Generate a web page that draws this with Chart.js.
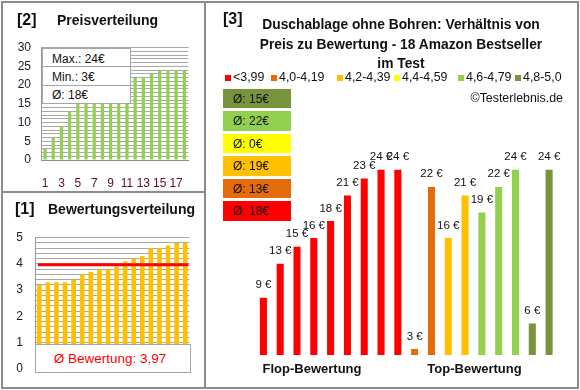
<!DOCTYPE html>
<html>
<head>
<meta charset="utf-8">
<script src="https://cdn.jsdelivr.net/npm/chart.js@4.4.0/dist/chart.umd.min.js"></script>
<style>
  body { margin: 0; background: #fff; font-family: "Liberation Sans", Arial, sans-serif; }
  #wrap { position: relative; width: 580px; height: 390px; overflow: hidden; }
  canvas { position: absolute; }
  .abs { position: absolute; box-sizing: border-box; }
  .t { position: absolute; white-space: nowrap; line-height: 1; color: #111; }
</style>
</head>
<body>
<div id="wrap">
  <canvas id="cPrice" width="204" height="191" style="left:0;top:0"></canvas>
  <canvas id="cRating" width="204" height="195" style="left:0;top:193px"></canvas>
  <canvas id="cMain" width="372" height="387" style="left:206px;top:0"></canvas>
</div>
<script>
// data
const rankLabels = ["1","2","3","4","5","6","7","8","9","10","11","12","13","14","15","16","17","18"];
const pricesSorted = [3, 6, 9, 13, 15, 16, 16, 18, 19, 21, 21, 22, 22, 23, 24, 24, 24, 24];
const priceTicks = [0, 5, 10, 15, 20, 25, 30];
const statLabels = ["Max.:", "Min.:", "Ø:"];
const statValues = [24, 3, 18];

const ratingsSorted = [3.2, 3.3, 3.3, 3.3, 3.4, 3.6, 3.7, 3.8, 3.8, 3.9, 4.1, 4.2, 4.3, 4.6, 4.6, 4.7, 4.8, 4.8];
const ratingTicks = [0, 1, 2, 3, 4, 5];
const avgRating = 3.97;
const avgRatingText = "3,97";

const productPrices = [9, 13, 15, 16, 18, 21, 23, 24, 24, 3, 22, 16, 21, 19, 22, 24, 6, 24];
const productGroup = [0, 0, 0, 0, 0, 0, 0, 0, 0, 1, 1, 2, 2, 4, 4, 4, 5, 5];
const groupLabels = ["<3,99", "4,0-4,19", "4,2-4,39", "4,4-4,59", "4,6-4,79", "4,8-5,0"];
const groupAvgPrice = [18, 13, 19, 0, 22, 15];
const sideLabels = ["Flop-Bewertung", "Top-Bewertung"];

// styles
const FONT = '"Liberation Sans", Arial, sans-serif';
const groupColors = ["#FF0000", "#E46C0A", "#FFC000", "#FFFF00", "#92D050", "#77933C"];
const wrap = document.getElementById("wrap");

function box(x, y, w, h, css) {
  const d = document.createElement("div");
  d.className = "abs";
  d.style.cssText += `left:${x}px;top:${y}px;width:${w}px;height:${h}px;` + (css || "");
  wrap.appendChild(d);
  return d;
}

// text placed by baseline (Liberation metrics)
function addText(str, x, base, size, opt) {
  opt = opt || {};
  const d = document.createElement("div");
  d.className = "t";
  d.textContent = str;
  d.style.fontSize = size + "px";
  d.style.top = (base - 0.8465 * size) + "px";
  if (opt.bold) d.style.fontWeight = "bold";
  if (opt.color) d.style.color = opt.color;
  if (opt.align === "center") {
    d.style.left = x + "px";
    d.style.transform = "translateX(-50%)";
  } else if (opt.align === "right") {
    d.style.right = (580 - x) + "px";
  } else {
    d.style.left = x + "px";
  }
  wrap.appendChild(d);
}

Chart.defaults.font.family = FONT;

// [2] Preisverteilung
new Chart(document.getElementById("cPrice"), {
  type: "bar",
  data: {
    labels: rankLabels,
    datasets: [{ data: pricesSorted, backgroundColor: "#92D050", barPercentage: 0.4, categoryPercentage: 1 }]
  },
  options: {
    responsive: false, animation: false, devicePixelRatio: 1,
    layout: { padding: { left: 0, right: 15.6, top: 47.7, bottom: 0 } },
    plugins: { legend: { display: false }, tooltip: { enabled: false } },
    scales: {
      x: {
        grid: { display: false },
        border: { display: true, color: "#8c8c8c" },
        ticks: {
          autoSkip: false, maxRotation: 0, padding: 8, color: "#5a1020",
          font: { size: 12 },
          callback: (v, i) => (i % 2 === 0 ? rankLabels[i] : "")
        },
        afterFit: s => { s.height = 31; }
      },
      y: {
        min: 0, max: 30,
        ticks: {
          stepSize: 1, autoSkip: false, padding: 10, color: "#1a1a2a",
          font: { size: 12 },
          callback: v => (priceTicks.includes(v) ? v : "")
        },
        grid: { color: "#a8a8a8", drawTicks: false },
        border: { color: "#999" },
        afterFit: s => { s.width = 41; }
      }
    }
  }
});

// [1] Bewertungsverteilung
const avgLine = {
  id: "avgLine",
  afterDatasetsDraw(chart) {
    const ctx = chart.ctx, a = chart.chartArea;
    const y = chart.scales.y.getPixelForValue(avgRating);
    ctx.save();
    ctx.strokeStyle = "#FF0000";
    ctx.lineWidth = 3;
    ctx.beginPath();
    ctx.moveTo(a.left + 3, y);
    ctx.lineTo(a.right - 1, y);
    ctx.stroke();
    ctx.restore();
  }
};

new Chart(document.getElementById("cRating"), {
  type: "bar",
  data: {
    labels: rankLabels,
    datasets: [{ data: ratingsSorted, backgroundColor: "#FFC000", barPercentage: 0.55, categoryPercentage: 1 }]
  },
  options: {
    responsive: false, animation: false, devicePixelRatio: 1,
    layout: { padding: { left: 0, right: 14.5, top: 44.7, bottom: 14.7 } },
    plugins: { legend: { display: false }, tooltip: { enabled: false } },
    scales: {
      x: { display: false },
      y: {
        min: 0, max: 5,
        ticks: {
          stepSize: 0.2, autoSkip: false, padding: 12, color: "#1a1a2a",
          font: { size: 12 },
          callback: v => (ratingTicks.includes(v) ? v : "")
        },
        grid: { color: "#a8a8a8", drawTicks: false },
        border: { color: "#999" },
        afterFit: s => { s.width = 35; }
      }
    }
  },
  plugins: [avgLine]
});

// [3] main chart
const barLabels = {
  id: "barLabels",
  afterDatasetsDraw(chart) {
    const ctx = chart.ctx;
    const meta = chart.getDatasetMeta(0);
    ctx.save();
    ctx.font = "11.5px " + FONT;
    ctx.fillStyle = "#111";
    ctx.textAlign = "center";
    ctx.textBaseline = "alphabetic";
    meta.data.forEach((bar, i) => {
      ctx.fillText(productPrices[i] + " €", bar.x, bar.y - 9.5);
    });
    ctx.restore();
  }
};

new Chart(document.getElementById("cMain"), {
  type: "bar",
  data: {
    labels: rankLabels,
    datasets: [{
      data: productPrices,
      backgroundColor: productGroup.map(g => groupColors[g]),
      barPercentage: 0.42, categoryPercentage: 1
    }]
  },
  options: {
    responsive: false, animation: false, devicePixelRatio: 1,
    layout: { padding: { left: 49, right: 20.5, top: 152.8, bottom: 32 } },
    plugins: { legend: { display: false }, tooltip: { enabled: false } },
    scales: {
      x: { display: false },
      y: { display: false, min: 2.3, max: 26 }
    }
  },
  plugins: [barLabels]
});

// overlays: stats box in [2]
box(42, 48, 89, 56, "background:#fff;border:1px solid #a6a6a6;");
box(42, 66, 89, 1, "background:#a6a6a6;");
box(42, 85, 89, 1, "background:#a6a6a6;");
[62.7, 81, 99].forEach((b, i) => addText(statLabels[i] + " " + statValues[i] + "€", 52, b, 12));

// average box in [1]
box(35, 344, 156, 29, "background:#fff;border:1px solid #a6a6a6;");
addText("Ø Bewertung: " + avgRatingText, 110, 363.3, 13.5, { align: "center", color: "#FF0000" });

// panel borders
box(1, 1, 578, 388, "border:2px solid #8c8c8c;");
box(204, 1, 2, 388, "background:#8c8c8c;");
box(1, 191, 204, 2, "background:#8c8c8c;");

// panel titles
addText("[2]", 17, 25.5, 16, { bold: true });
addText("Preisverteilung", 57, 25, 14, { bold: true });
addText("[1]", 15, 214.5, 16, { bold: true });
addText("Bewertungsverteilung", 48, 214, 14, { bold: true });
addText("[3]", 223, 25, 16, { bold: true });
addText("Duschablage ohne Bohren: Verhältnis von", 401, 29.3, 13.8, { bold: true, align: "center" });
addText("Preis zu Bewertung - 18 Amazon Bestseller", 401, 50, 13.8, { bold: true, align: "center" });
addText("im Test", 401, 68.3, 13.8, { bold: true, align: "center" });

// legend
const legendX = [225, 271, 337, 394, 458, 515];
groupLabels.forEach((lab, i) => {
  box(legendX[i], 75.3, 6, 6, "background:" + groupColors[i] + ";");
  addText(lab, legendX[i] + 8, 81.7, 12.4);
});
addText("©Testerlebnis.de", 563, 102.3, 12.4, { align: "right" });

// group average boxes, top = best group
const boxTops = [88.5, 111, 133.5, 156, 178.5, 201];
for (let k = 0; k < 6; k++) {
  const g = 5 - k;
  box(223, boxTops[k], 68, 19.5, "background:" + groupColors[g] + ";");
  addText("Ø: " + groupAvgPrice[g] + "€", 233, boxTops[k] + 14.3, 12);
}

// side labels
addText(sideLabels[0], 312, 373.3, 13, { bold: true, align: "center" });
addText(sideLabels[1], 474.5, 373.3, 13, { bold: true, align: "center" });
</script>
</body>
</html>
